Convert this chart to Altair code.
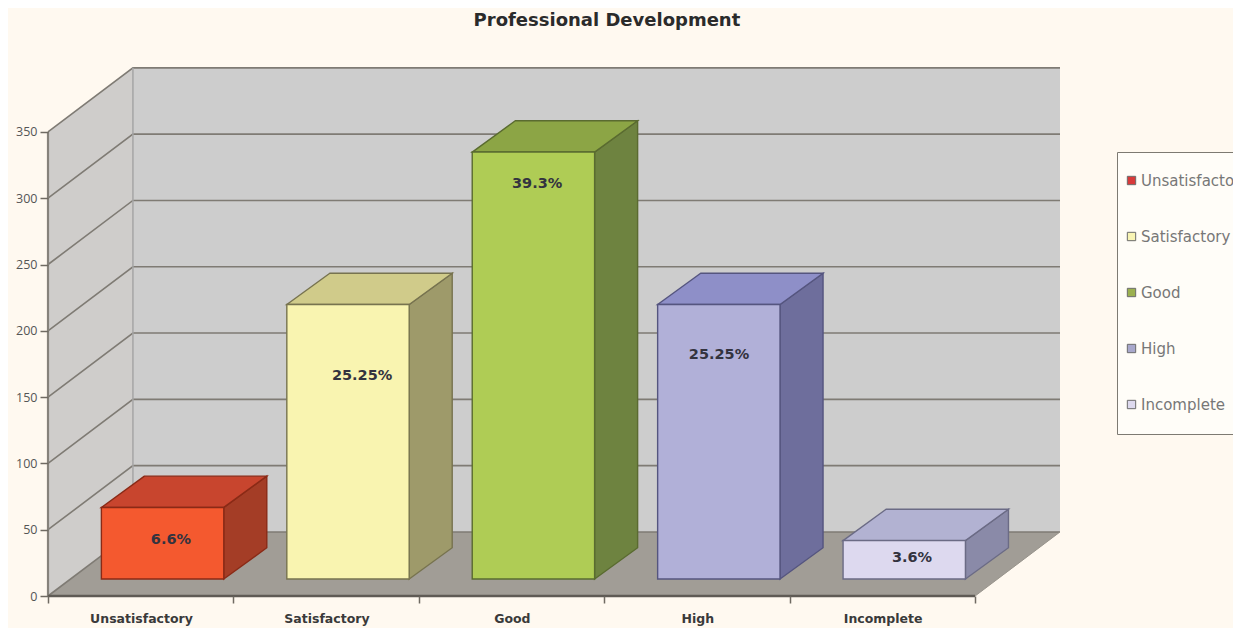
import altair as alt
import pandas as pd

categories = ["Unsatisfactory", "Satisfactory", "Good", "High", "Incomplete"]
values = [54, 207, 322, 207, 29]
percents = ["6.6%", "25.25%", "39.3%", "25.25%", "3.6%"]
label_x = [0.663, 1.694, 2.638, 3.619, 4.660]
label_y = [42.2, 165.9, 310.7, 181.7, 28.7]
y_ticks = [0, 50, 100, 150, 200, 250, 300, 350]
x_ticks = [0, 1, 2, 3, 4, 5]

front_colors = ["#F4592F", "#F9F4B0", "#AFCC55", "#B1B0D8", "#DDD9EF"]
top_colors = ["#C8452E", "#D0CB8A", "#8CA545", "#8E8FC8", "#B2B2D2"]
side_colors = ["#A43D26", "#9E9A6A", "#6E8340", "#6E6E9C", "#8A8AA8"]
edge_colors = ["#8A2A16", "#77734F", "#5A6B30", "#55557F", "#6B6B85"]
legend_colors = ["#D83A3A", "#F8F4B4", "#9BB04F", "#A8A8CC", "#DDD9EE"]

# projection depth, in axis units
WALL_DX, WALL_DY = 0.458, 48.3
BAR_DX, BAR_DY = 0.232, 23.6
BAR_X0, BAR_W, BAR_BASE = 0.288, 0.66, 12.8
XMAX, YMAX = 5.458, 398.2

xs = alt.Scale(domain=[0, XMAX], nice=False, zero=False)
ys = alt.Scale(domain=[0, YMAX], nice=False, zero=False)
x_axis = alt.Axis(values=x_ticks, title=None, domain=False, grid=False, tickSize=7, tickColor="#6f6a62",
                  tickWidth=1.5, labelFont="DejaVu Sans", labelFontSize=12.5, labelFontWeight="bold",
                  labelColor="#3a3a3a", labelOffset=93, labelPadding=9, labelBound=False, labelFlush=False,
                  labelOverlap=False, zindex=1,
                  labelExpr="['Unsatisfactory','Satisfactory','Good','High','Incomplete',''][datum.value]")
y_axis = alt.Axis(values=y_ticks, title=None, domain=False, grid=False, tickSize=8, tickColor="#6f6a62",
                  tickWidth=1.5, labelFont="Open Sans", labelFontSize=12.5, labelColor="#555555",
                  labelPadding=3, zindex=1, format="d")
X = alt.X("x:Q", scale=xs, axis=x_axis)
Y = alt.Y("y:Q", scale=ys, axis=y_axis)

left_wall = pd.DataFrame({"x": [0, WALL_DX], "y": [0, WALL_DY], "y2": [y_ticks[-1], y_ticks[-1] + WALL_DY]})
back_wall = pd.DataFrame({"x": [WALL_DX], "x2": [XMAX], "y": [WALL_DY], "y2": [y_ticks[-1] + WALL_DY]})
floor = pd.DataFrame({"y": [0, WALL_DY], "x": [0, WALL_DX], "x2": [5, XMAX]})

grid_rows = []
for v in y_ticks:
    grid_rows += [{"x": 0, "y": v, "v": v, "o": 0},
                  {"x": WALL_DX, "y": v + WALL_DY, "v": v, "o": 1},
                  {"x": XMAX, "y": v + WALL_DY, "v": v, "o": 2}]
grid = pd.DataFrame(grid_rows)

front_rows, side_rows, top_rows = [], [], []
for i, (c, v) in enumerate(zip(categories, values)):
    x0 = i + BAR_X0
    x1 = x0 + BAR_W
    lo = BAR_BASE
    hi = BAR_BASE + v
    front_rows.append({"cat": c, "x": x0, "x2": x1, "y": lo, "y2": hi})
    side_rows += [{"cat": c, "x": x1, "y": lo, "y2": hi},
                  {"cat": c, "x": x1 + BAR_DX, "y": lo + BAR_DY, "y2": hi + BAR_DY}]
    top_rows += [{"cat": c, "y": hi, "x": x0, "x2": x1},
                 {"cat": c, "y": hi + BAR_DY, "x": x0 + BAR_DX, "x2": x1 + BAR_DX}]
front, side, top = map(pd.DataFrame, (front_rows, side_rows, top_rows))
labels = pd.DataFrame({"x": label_x, "y": label_y, "t": percents})


def fill_of(rng):
    return alt.Fill("cat:N", scale=alt.Scale(domain=categories, range=rng), sort=categories, legend=None)


edge = alt.Stroke("cat:N", scale=alt.Scale(domain=categories, range=edge_colors), sort=categories, legend=None)

layers = [
    alt.Chart(left_wall).mark_area(color="#CFCDCB").encode(x=X, y=Y, y2="y2:Q"),
    alt.Chart(back_wall).mark_rect(color="#CDCDCD").encode(x=X, x2="x2:Q", y=Y, y2="y2:Q"),
    alt.Chart(floor).mark_area(color="#A19D96", orient="horizontal").encode(y=Y, x=X, x2="x2:Q"),
    alt.Chart(grid).mark_line(color="#7f7b74", strokeWidth=1.6).encode(x=X, y=Y, detail="v:N", order="o:Q"),
    alt.Chart(pd.DataFrame({"x": [WALL_DX, WALL_DX], "y": [WALL_DY, y_ticks[-1] + WALL_DY]})).mark_line(
        color="#A5A5A5", strokeWidth=1.5).encode(x=X, y=Y),
    alt.Chart(pd.DataFrame({"x": [0, 0], "y": [0, y_ticks[-1]]})).mark_line(
        color="#86827b", strokeWidth=2.2).encode(x=X, y=Y),
    alt.Chart(pd.DataFrame({"x": [0, 5], "y": [0, 0]})).mark_line(
        color="#5f5b55", strokeWidth=2.4).encode(x=X, y=Y),
    alt.Chart(pd.DataFrame({"x": [5, XMAX], "y": [0, WALL_DY]})).mark_line(
        color="#98948c", strokeWidth=1).encode(x=X, y=Y),
    alt.Chart(side).mark_area(strokeWidth=1.4).encode(
        x=X, y=Y, y2="y2:Q", fill=fill_of(side_colors), stroke=edge, detail="cat:N"),
    alt.Chart(top).mark_area(strokeWidth=1.4, orient="horizontal").encode(
        y=Y, x=X, x2="x2:Q", fill=fill_of(top_colors), stroke=edge, detail="cat:N"),
    alt.Chart(front).mark_rect(strokeWidth=1.4).encode(
        x=X, x2="x2:Q", y=Y, y2="y2:Q", stroke=edge, fill=fill_of(front_colors)),
    alt.Chart(labels).mark_text(font="DejaVu Sans", fontSize=14.5, fontWeight="bold", color="#33333f").encode(
        x=X, y=Y, text="t:N"),
    alt.Chart(pd.DataFrame({"name": categories})).mark_square(opacity=0, filled=True).encode(
        x=alt.value(0), y=alt.value(0),
        color=alt.Color("name:N", scale=alt.Scale(domain=categories, range=legend_colors), sort=categories,
                        legend=alt.Legend(
            title=None, orient="none", legendX=1069, legendY=84, fillColor="#FFFDF8", strokeColor="#7d7a72",
            padding=21, rowPadding=40, labelFont="DejaVu Sans", labelFontSize=15, labelColor="#777777",
            symbolSize=70, symbolType="square", symbolStrokeColor="#6b6b6b", symbolStrokeWidth=1,
            symbolOpacity=1, symbolOffset=-14, labelOffset=2, labelLimit=200, values=categories))),
]

chart = alt.layer(*layers).resolve_scale(fill="independent", stroke="shared", color="independent").properties(
    width=1012, height=528,
    padding={"left": 40, "top": 60, "right": 173, "bottom": 32},
    autosize=alt.AutoSizeParams(type="none"),
    background="#FFF9F0",
    title=alt.TitleParams("Professional Development", anchor="start", dx=458, offset=35,
                          font="DejaVu Sans", fontSize=18, fontWeight="bold", color="#2b2b2b"),
).configure_view(stroke=None)

chart.save("out.html", embed_options={"renderer": "svg", "actions": False})
